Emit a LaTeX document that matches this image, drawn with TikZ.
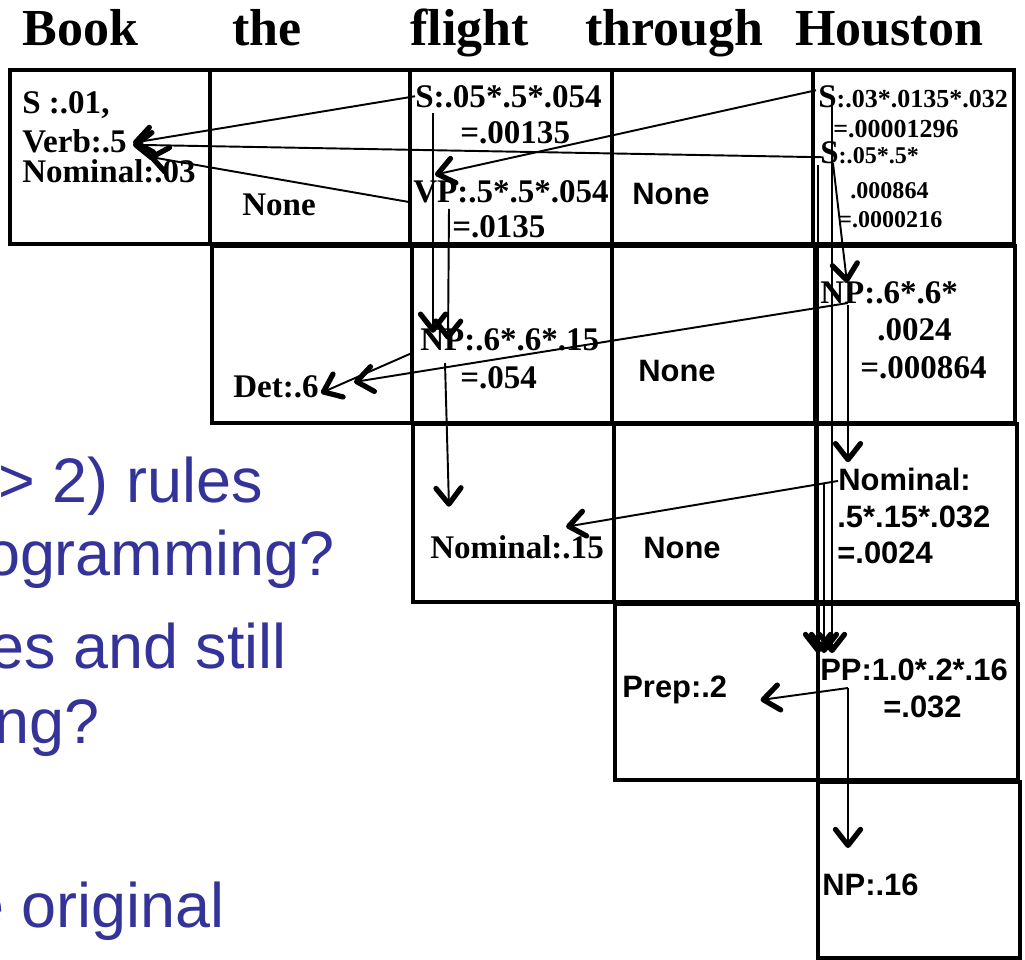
\documentclass[tikz,border=0pt]{standalone}
\usepackage{fontspec}
\setmainfont{Liberation Serif}
\newfontfamily\arialfont{Liberation Sans}
\usetikzlibrary{arrows.meta}
\definecolor{slideblue}{RGB}{51,51,153}
\begin{document}
\begin{tikzpicture}[x=0.02cm,y=-0.02cm,every node/.style={inner sep=0pt},
  hdr/.style={font=\fontsize{29.6}{32}\selectfont\bfseries,anchor=base west},
  entry/.style={font=\fontsize{18.8}{20}\selectfont\bfseries,anchor=base west},
  sentry/.style={font=\arialfont\fontsize{17.6}{19}\selectfont\bfseries,anchor=base west},
  bullet/.style={font=\arialfont\fontsize{35.8}{38}\selectfont,text=slideblue,anchor=base east},
  cellbox/.style={draw,line width=2.2pt},
  ptr/.style={line width=1.1pt,-{Straight Barb[length=0.32cm,width=0.5cm,line width=3pt,round]}}]
\useasboundingbox (0,0) rectangle (1025,960);
\clip (0,0) rectangle (1025,960);
% words
\node[hdr] (book) at (22,45) {Book};
\node[hdr] (the) at (232,45) {the};
\node[hdr] (flight) at (410,45) {flight};
\node[hdr] (through) at (585,45) {through};
\node[hdr] (houston) at (795,45) {Houston};
% chart cells
\foreach \xa/\xb in {10/210,210/410,410/612,612/813,813/1014}
  \draw[cellbox] (\xa,70) rectangle (\xb,244);
\foreach \xa/\xb in {212/412,412/612,612/815,815/1015}
  \draw[cellbox] (\xa,246) rectangle (\xb,423);
\foreach \xa/\xb in {413/614,614/816,816/1017}
  \draw[cellbox] (\xa,424) rectangle (\xb,602);
\foreach \xa/\xb in {615/818,818/1018}
  \draw[cellbox] (\xa,604) rectangle (\xb,780);
\draw[cellbox] (818,782) rectangle (1020,958);
% row 1
\node[entry] (s1) at (22,113) {S :.01,};
\node[entry] (verb1) at (22,152) {Verb:.5};
\node[entry] (nom1) at (22,182) {Nominal:.03};
\node[entry] (none2) at (242,215) {None};
\node[entry] (s3) at (415,107) {S:.05*.5*.054};
\node[entry] (s3v) at (460,143) {=.00135};
\node[entry] (vp3) at (413,202) {VP:.5*.5*.054};
\node[entry] (vp3v) at (452,237) {=.0135};
\node[sentry] (none4) at (632,204) {None};
\node[entry] (s5a) at (818,107) {S{\fontsize{14.8}{16}\selectfont:.03*.0135*.032}};
\node[entry,font=\fontsize{14.8}{16}\selectfont\bfseries] (s5av) at (833,137) {=.00001296};
\node[entry] (s5b) at (820,163) {S{\fontsize{13.7}{15}\selectfont:.05*.5*}};
\node[entry,font=\fontsize{13.7}{15}\selectfont\bfseries] (s5bv) at (850,198) {.000864};
\node[entry,font=\fontsize{13.7}{15}\selectfont\bfseries] (s5bw) at (838,227) {=.0000216};
% row 2
\node[entry] (det) at (233,397) {Det:.6};
\node[entry] (np3) at (420,350) {NP:.6*.6*.15};
\node[entry] (np3v) at (460,388) {=.054};
\node[sentry] (none4b) at (638,381) {None};
\node[entry] (np5) at (820,303) {NP:.6*.6*};
\node[entry] (np5v) at (877,340) {.0024};
\node[entry] (np5w) at (860,378) {=.000864};
% row 3
\node[entry] (nom3) at (430,558) {Nominal:.15};
\node[sentry] (none4c) at (643,558) {None};
\node[sentry] (nom5) at (838,490) {Nominal:};
\node[sentry] (nom5v) at (837,527) {.5*.15*.032};
\node[sentry] (nom5w) at (837,563) {=.0024};
% rows 4 and 5
\node[sentry] (prep) at (622,697) {Prep:.2};
\node[sentry] (pp5) at (820,680) {PP:1.0*.2*.16};
\node[sentry] (pp5v) at (883,717) {=.032};
\node[sentry] (np6) at (822,895) {NP:.16};
% back pointers
\draw[ptr] (s3.west) -- ([shift={(6,2)}]verb1.east);
\draw[ptr] ([shift={(-4,0)}]vp3.base west) -- ([shift={(40,-2)}]nom1.north);
\draw[ptr] ([shift={(2,5)}]s5b.west) -- ([shift={(6,4)}]verb1.east);
\draw[ptr] ([shift={(-2,-6)}]s5a.west) -- ([shift={(22,-5)}]vp3.north west);
\draw[ptr] ([shift={(18,5)}]s3.south west) -- ([shift={(13,5)}]np3.north west);
\draw[ptr] ([shift={(36,6)}]vp3.south west) -- ([shift={(28,12)}]np3.north west);
\draw[ptr] ([shift={(-8,3)}]np3.base west) -- ([shift={(2,-4)}]det.base east);
\draw[ptr] ([shift={(28,0)}]np5.base west) -- ([shift={(35,-15)}]det.base east);
\draw[ptr] ([shift={(25,13)}]np3.base west) -- ([shift={(19,-28)}]nom3.north west);
\draw[ptr] ([shift={(0,2)}]nom5.west) -- ([shift={(-38,-8)}]nom3.north east);
\draw[ptr] ([shift={(-14,4)}]nom5.west) -- ([shift={(4,-5)}]pp5.north west);
\draw[ptr] ([shift={(14,4)}]s5a.west) -- ([shift={(12,-5)}]pp5.north west);
\draw[ptr] ([shift={(-2,13)}]s5b.west) -- ([shift={(-2,-5)}]pp5.north west);
\draw[ptr] ([shift={(13,11)}]s5b.west) -- ([shift={(27,2)}]np5.north west);
\draw[ptr] ([shift={(28,2)}]np5.base west) -- ([shift={(10,-5)}]nom5.north west);
\draw[ptr] ([shift={(28,8)}]pp5.base west) -- ([shift={(33,3)}]prep.base east);
\draw[ptr] ([shift={(28,8)}]pp5.base west) -- ([shift={(26,-25)}]np6.north west);
% slide text behind
\node[bullet] (b1) at (263,502) {> 2) rules};
\node[bullet] (b2) at (335,575) {ogramming?};
\node[bullet] (b3) at (287,668) {es and still};
\node[bullet] (b4) at (100,743) {ng?};
\node[bullet] (b5) at (225,927) {e original};
\end{tikzpicture}
\end{document}
